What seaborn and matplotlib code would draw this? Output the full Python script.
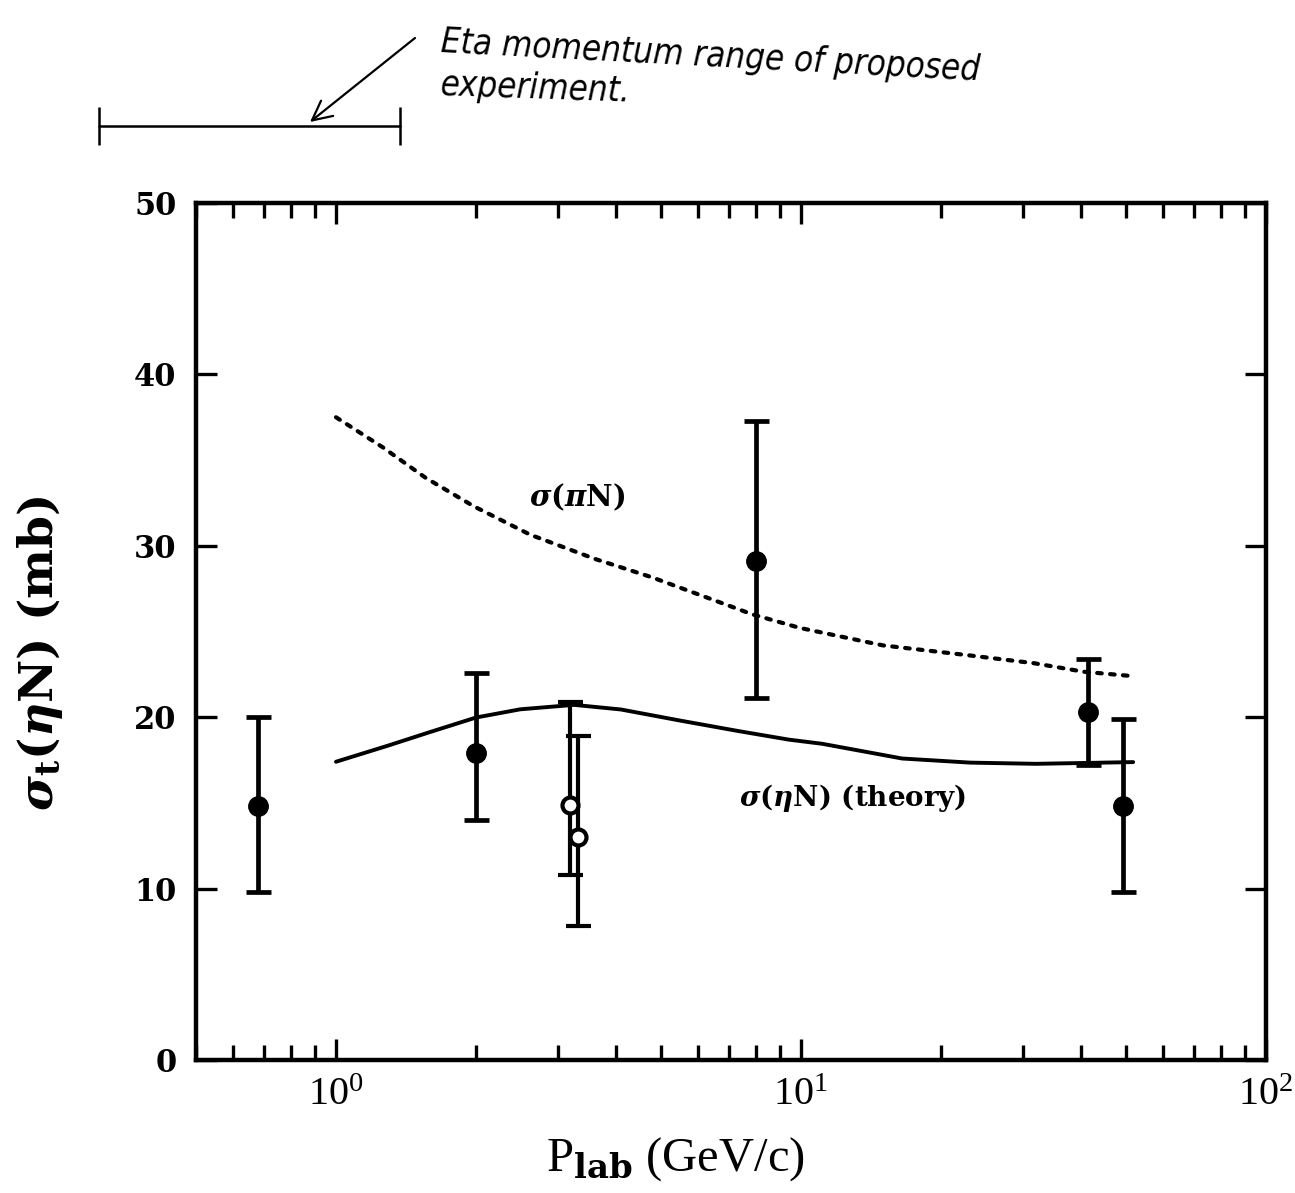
import numpy as np
import pandas as pd
import matplotlib
matplotlib.use("Agg")
import matplotlib.pyplot as plt
import seaborn as sns
from matplotlib.ticker import LogLocator, LogFormatterMathtext, NullFormatter

# --- measured eta-nucleon total cross sections (filled points) ---
filled_p = [0.68, 2.0, 8.0, 41.5, 49.2]
filled_sigma = [14.8, 17.9, 29.1, 20.3, 14.8]
filled_low = [9.8, 14.0, 21.1, 17.2, 9.8]
filled_high = [20.0, 22.6, 37.3, 23.4, 19.9]

# --- open points near 3 GeV/c ---
open_p = [3.18, 3.32]
open_sigma = [14.9, 13.0]
open_low = [10.8, 7.8]
open_high = [20.9, 18.9]

# --- pi-N total cross section (dotted curve) ---
pin_p = [1.0, 1.26, 1.56, 1.98, 2.62, 3.60, 4.77, 6.12, 7.86, 9.94, 15.0, 22.8, 31.7, 40.6, 51.5]
pin_sigma = [37.5, 35.75, 33.96, 32.3, 30.64, 29.24, 28.17, 27.09, 26.0, 25.21, 24.19, 23.62, 23.15, 22.65, 22.4]

# --- eta-N theory curve (solid) ---
eta_p = [1.0, 1.29, 1.60, 2.0, 2.49, 3.25, 4.10, 5.53, 7.34, 9.42, 11.1, 16.5, 23.1, 32.0, 51.8]
eta_sigma = [17.4, 18.33, 19.15, 19.98, 20.46, 20.72, 20.45, 19.79, 19.19, 18.69, 18.45, 17.59, 17.35, 17.28, 17.38]

# momentum range of the proposed experiment (GeV/c)
eta_range = [0.31, 1.37]

sns.set_theme(style="ticks")
plt.rcParams["font.family"] = ["Liberation Serif", "DejaVu Serif"]
plt.rcParams["mathtext.fontset"] = "dejavuserif"
plt.rcParams["axes.unicode_minus"] = False
for key in ["text.color", "axes.labelcolor", "xtick.color", "ytick.color",
            "axes.edgecolor"]:
    plt.rcParams[key] = "black"

fig = plt.figure(figsize=(12.95, 11.93), dpi=100)
fig.patch.set_facecolor("white")
ax = fig.add_axes([196 / 1295, 1 - 1060 / 1193, 1070 / 1295, 857 / 1193])
ax.set_facecolor("white")

pin_df = pd.DataFrame({"p": pin_p, "sigma": pin_sigma})
eta_df = pd.DataFrame({"p": eta_p, "sigma": eta_sigma})

sns.lineplot(data=pin_df, x="p", y="sigma", ax=ax, color="black", lw=3.0,
             linestyle=(0, (1.1, 2.0)), sort=False, estimator=None,
             dash_capstyle="round")
sns.lineplot(data=eta_df, x="p", y="sigma", ax=ax, color="black", lw=2.8,
             sort=False, estimator=None, solid_joinstyle="round")

f_sig = np.array(filled_sigma)
f_err = [f_sig - np.array(filled_low), np.array(filled_high) - f_sig]
ax.errorbar(filled_p, filled_sigma, yerr=f_err, fmt="o", color="black",
            ms=14, elinewidth=3.4, capsize=9, capthick=3.4, zorder=4)

o_sig = np.array(open_sigma)
o_err = [o_sig - np.array(open_low), np.array(open_high) - o_sig]
ax.errorbar(open_p, open_sigma, yerr=o_err, fmt="o", color="black",
            mfc="white", mec="black", mew=3.0, ms=11.5,
            elinewidth=3.0, capsize=9, capthick=3.2, zorder=5)

ax.set_xscale("log")
ax.set_xlim(0.5, 100)
ax.set_ylim(0, 50)
ax.set_yticks([0, 10, 20, 30, 40, 50])
ax.xaxis.set_major_locator(LogLocator(base=10))
ax.xaxis.set_minor_locator(LogLocator(base=10, subs=np.arange(2, 10)))
ax.xaxis.set_major_formatter(LogFormatterMathtext())
ax.xaxis.set_minor_formatter(NullFormatter())

for side in ["left", "right", "top", "bottom"]:
    ax.spines[side].set_visible(True)
    ax.spines[side].set_linewidth(3.2)
    ax.spines[side].set_color("black")

ax.tick_params(which="both", direction="in", top=True, right=True,
               width=2.4, color="black")
ax.tick_params(which="major", length=15)
ax.tick_params(which="minor", length=11)
ax.tick_params(axis="y", which="major", pad=14)
ax.tick_params(axis="x", which="major", pad=12, labelsize=29)

for lbl in ax.get_yticklabels():
    lbl.set_fontfamily("DejaVu Serif")
    lbl.set_fontweight("heavy")
    lbl.set_fontsize(22)
for lbl in ax.get_xticklabels():
    lbl.set_fontfamily("Liberation Serif")

ax.set_xlabel(r"P$_{\mathbf{lab}}$ (GeV/c)", fontsize=35,
              fontfamily="Liberation Serif")
ax.xaxis.set_label_coords(0.448, -0.088)
ax.set_ylabel(r"$\boldsymbol{\sigma}_\mathbf{t}\mathbf{(}\boldsymbol{\eta}\mathbf{N)}$ (mb)",
              fontsize=34, fontfamily="DejaVu Serif", fontweight="bold")
ax.yaxis.set_label_coords(-0.122, 0.475)

ax.text(3.3, 32.8, r"$\boldsymbol{\sigma}\mathbf{(}\boldsymbol{\pi}\mathbf{N)}$",
        ha="center", va="center", fontsize=21)
ax.text(12.9, 15.3,
        r"$\boldsymbol{\sigma}\mathbf{(}\boldsymbol{\eta}\mathbf{N)}$" + " (theory)",
        ha="center", va="center", fontsize=20,
        fontfamily="DejaVu Serif", fontweight="bold")

# proposed-experiment momentum range bar above the frame
ax.plot(eta_range, [54.5, 54.5], color="black", lw=1.8, clip_on=False)
ax.plot(eta_range, [54.5, 54.5], color="black", lw=0, marker="|",
        ms=28, mew=1.8, clip_on=False)

hand = ["DejaVu Sans Condensed", "Liberation Sans Narrow", "DejaVu Sans"]
fig.text(440 / 1295, 1 - 52 / 1193, "Eta momentum range of proposed",
         fontsize=25, fontfamily=hand, style="italic", fontweight="light",
         fontstretch="condensed", ha="left", va="baseline", rotation=-3,
         rotation_mode="anchor")
fig.text(440 / 1295, 1 - 95 / 1193, "experiment.",
         fontsize=25, fontfamily=hand, style="italic", fontweight="light",
         fontstretch="condensed", ha="left", va="baseline", rotation=-2,
         rotation_mode="anchor")
ax.annotate("", xy=(310 / 1295, 1 - 122 / 1193), xycoords="figure fraction",
            xytext=(415 / 1295, 1 - 38 / 1193), textcoords="figure fraction",
            arrowprops=dict(arrowstyle="->", lw=1.6, color="black",
                            mutation_scale=35, shrinkA=0, shrinkB=0))

fig.savefig("out.png", dpi=100, facecolor="white")
